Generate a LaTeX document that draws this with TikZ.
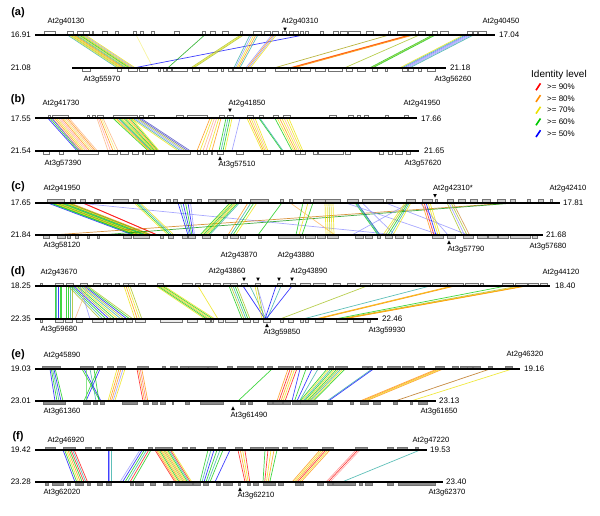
\documentclass[tikz,border=0pt]{standalone}
\usepackage{fontspec}
\setmainfont{Liberation Sans}
\usetikzlibrary{positioning}
\definecolor{idR}{RGB}{255,0,0}
\definecolor{idO}{RGB}{255,140,0}
\definecolor{idY}{RGB}{235,225,0}
\definecolor{idG}{RGB}{0,200,0}
\definecolor{idB}{RGB}{0,0,255}
\definecolor{idT}{RGB}{40,170,160}
\definecolor{idV}{RGB}{160,190,20}
\definecolor{idL}{RGB}{140,140,255}
\definecolor{idP}{RGB}{250,175,120}
% one link, and a bundle of links stepping along both bars
\newcommand{\lk}[3]{\draw[lnk,color=#3] (#1,\topy) -- (#2,\boty);}
\newcommand{\bund}[5]{\foreach \c [count=\i from 0] in {#5}
  \draw[lnk,color=\c] ({#1+\i*(#2)},\topy) -- ({#3+\i*(#4)},\boty);}
% gene boxes above the top bar / below the bottom bar
\newcommand{\genestop}[3][white]{\foreach \a/\b in {#3}
  \filldraw[gene,fill=#1] (\a,#2-3.2) rectangle (\b,#2);}
\newcommand{\genesbot}[3][white]{\foreach \a/\b in {#3}
  \filldraw[gene,fill=#1] (\a,#2) rectangle (\b,#2+3.5);}
\tikzset{
  lnk/.style={line width=0.7pt,opacity=0.75},
  gene/.style={draw=black!55,line width=0.3pt},
  chrbar/.style={line width=2pt,black},
  plab/.style={font=\fontsize{11}{12}\selectfont\bfseries,inner sep=0},
  glab/.style={font=\fontsize{7.6}{8}\selectfont,inner sep=0},
  num/.style={font=\fontsize{8}{9}\selectfont,inner sep=0},
  dnarr/.pic={\fill (-1.8,-2) -- (1.8,-2) -- (0,1.6) -- cycle;},
  uparr/.pic={\fill (-1.8,2) -- (1.8,2) -- (0,-1.6) -- cycle;}}
\begin{document}
\begin{tikzpicture}[x=1pt,y=-1pt]
\useasboundingbox (0,0) rectangle (600,515);

% ---------------- (a)
\def\topy{34.7}\def\boty{67.7}
\bund{67}{1.5}{117}{1.5}{idT,idY,idV,idY,idO,idV,idT,idY,idG,idV,idY,idL,idY}
\lk{136}{153}{idY!50}
\lk{305}{135}{idB}
\lk{205}{168}{idG!80!black}
\bund{241}{1.5}{191}{1.5}{idV,idY,idV}
\bund{250}{2}{234}{1.5}{idT,idL,idY,idO,idT}
\bund{272}{1.5}{246}{1.5}{idL,idO,idL,idY}
\lk{390}{275}{idY!70!black}
\bund{410}{1.5}{290}{1.5}{idO,idR,idO,idO}
\lk{420}{345}{idV}
\bund{433}{1.5}{370}{1.5}{idG,idV,idG}
\bund{464}{2}{400}{2}{idY,idT,idB!60,idL,idL,idT}
\genestop{\topy}{44/55,67/73,77/83,83/89,92/93,102/107,115/118,133/136,140/143,151/154,174/179,202/205,210/215,222/228,240/242,253/261,264/270,272/278,282/286,289/293,293/298,300/303,305/308,320/323,333/338,340/347,348/360,366/373,388/390,397/415,418/425,432/437,440/448,467/472,473/477,478/486}
\genesbot{\boty}{82/90,117/121,128/137,139/147,158/160,163/166,167/171,172/187,192/199,208/217,221/223,228/232,233/242,246/252,257/265,275/288,290/297,300/310,315/325,328/342,346/352,357/365,372/377,385/387,402/407,408/413,418/421,427/435}
\draw[chrbar] (35,\topy) -- (495,\topy);
\draw[chrbar] (72,\boty) -- (446,\boty);
\node[plab] (pa) at (18,13) {(a)};
\node[num,anchor=east] (a-tl) at (31,35) {16.91};
\node[num,anchor=east] (a-bl) at (31,67.5) {21.08};
\node[num,anchor=west] (a-tr) at (499,35) {17.04};
\node[num,anchor=west] (a-br) at (450,67.5) {21.18};
\node[glab] (a-g1) at (66,22) {At2g40130};
\node[glab] (a-g2) at (300,22) {At2g40310};
\pic at (285,29.5) {dnarr};
\node[glab] (a-g3) at (501,22) {At2g40450};
\node[glab] (a-g4) at (102,79.5) {At3g55970};
\node[glab] (a-g5) at (453,80) {At3g56260};

% ---------------- legend
\node[font=\fontsize{10}{11}\selectfont,inner sep=0,anchor=west] (leg) at (531,75) {Identity level};
\foreach \c/\t [count=\k from 0] in {idR/90,idO/80,idY/70,idG/60,idB/50}{
  \draw[\c,line width=1.6pt] (536,{90.2+\k*11.7}) -- (540.5,{83.4+\k*11.7});
  \node[num,anchor=west] (leg-\t) at (547,{86.8+\k*11.7}) {>= \t\%};}

% ---------------- (b)
\def\topy{118.3}\def\boty{150.7}
\bund{48}{2}{77}{1.5}{idB,idG,idB}
\bund{53}{1.8}{80}{1.9}{idP,idO,idY,idP,idR!40,idO,idY!70,idP,idO,idP}
\bund{97}{1.5}{108}{2.5}{idP,idR!40,idO,idY!60,idP}
\bund{113}{1.7}{148}{1}{idG,idY,idO,idT,idG,idY,idV,idG,idY,idO,idG,idY}
\bund{131}{2}{178}{2.4}{idY,idT,idL,idV,idB!50!gray,idB!50!gray}
\bund{210}{2.2}{197}{3}{idO,idY,idP,idR!40,idY,idO}
\bund{226}{2}{219}{2}{idG,idT,idG,idY}
\lk{240}{232}{idL}
\bund{247}{2}{262}{1.5}{idY,idO,idY,idP,idY}
\bund{259}{1}{282}{1}{idG,idT}
\bund{275}{2.3}{292}{1.8}{idG,idY,idO,idY,idP,idY,idY}
\genestop{\topy}{48/50,52/68,87/89,92/95,97/103,113/137,139/143,148/154,176/183,187/207,219/224,227/233,247/253,259/263,273/278,283/290,329/336,348/353,357/360,364/368,385/388,404/408}
\genesbot{\boty}{43/49,59/63,78/98,108/117,120/128,132/138,142/143,145/154,168/190,197/200,203/207,211/212,217/223,236/243,263/270,280/283,295/300,300/305,313/317,318/343,345/350,379/383,388/392,395/402,406/410}
\draw[chrbar] (35,\topy) -- (417,\topy);
\draw[chrbar] (35,\boty) -- (419,\boty);
\node[plab] (pb) at (18,100) {(b)};
\node[num,anchor=east] (b-tl) at (31,118.5) {17.55};
\node[num,anchor=east] (b-bl) at (31,150.5) {21.54};
\node[num,anchor=west] (b-tr) at (421,118.5) {17.66};
\node[num,anchor=west] (b-br) at (424,150.5) {21.65};
\node[glab] (b-g1) at (61,104) {At2g41730};
\node[glab] (b-g2) at (247,104) {At2g41850};
\pic at (230,110.5) {dnarr};
\node[glab] (b-g3) at (422,104) {At2g41950};
\node[glab] (b-g4) at (63,164) {At3g57390};
\pic at (220,158) {uparr};
\node[glab] (b-g5) at (237,165) {At3g57510};
\node[glab] (b-g6) at (423,164) {At3g57620};

% ---------------- (c)
\def\topy{202.7}\def\boty{235}
\bund{47}{1.5}{133}{1.3}{idB,idT,idG,idG,idY,idO,idG,idY,idV,idG,idT,idG,idY,idO,idG,idO}
\bund{82}{0.7}{157}{0.7}{idR,idR}
\lk{75}{398}{idL}
\lk{515}{52}{idO!80!black}
\lk{518}{100}{idG!70!black}
\bund{134}{2}{168}{2}{idY,idG,idT,idY}
\bund{178}{2.5}{188}{1.3}{idB,idT,idB,idG,idB,idL}
\bund{230}{1.6}{200}{1.6}{idG,idY,idG,idV,idY,idG,idT}
\bund{248}{3}{228}{2.5}{idO,idT,idG,idY}
\lk{282}{258}{idG}
\lk{290}{335}{idO!70}
\bund{303}{5}{296}{3}{idG,idY,idG}
\bund{325}{2}{326}{2}{idY,idY,idV,idY,idY}
\bund{355}{1}{378}{1}{idG,idT,idB!60!idG}
\lk{345}{440}{idL}\lk{362}{395}{idL}\lk{410}{352}{idL}\lk{385}{468}{idL}\lk{420}{448}{idL}
\bund{405}{1.5}{383}{2.5}{idY,idV,idG,idT,idY}
\bund{422}{2}{432}{2}{idO,idR,idB,idY,idY}
\bund{447}{2}{462}{2.5}{idV,idL,idV,idO!60!gray}
\genestop[black!20]{\topy}{47/64,70/75,80/85,94/97,98/100,113/128,133/138,150/155,158/160,166/170,173/177,184/191,197/201,208/215,216/225,226/235,239/241,250/268,280/283,289/292,303/310,313/325,325/340,347/358,362/383,386/392,406/415,422/432,435/437,447/453,458/465,470/477,482/490,497/505,510/515,527/530,538/543,550/552}
\genesbot[black!20]{\boty}{43/49,57/65,67/70,75/78,87/89,97/99,123/131,133/149,160/163,168/173,182/187,188/195,202/210,223/227,230/238,240/245,258/261,278/300,300/303,305/315,317/325,327/338,355/363,365/372,377/380,385/392,395/403,407/410,432/443,447/455,463/473,477/487,488/497,498/508,510/530,532/537}
\draw[chrbar] (35,\topy) -- (560,\topy);
\draw[chrbar] (35,\boty) -- (543,\boty);
\node[plab] (pc) at (18,187) {(c)};
\node[num,anchor=east] (c-tl) at (31,203) {17.65};
\node[num,anchor=east] (c-bl) at (31,235) {21.84};
\node[num,anchor=west] (c-tr) at (563,203) {17.81};
\node[num,anchor=west] (c-br) at (546,235) {21.68};
\node[glab] (c-g1) at (62,189) {At2g41950};
\node[glab] (c-g2) at (453,189) {At2g42310*};
\pic at (435,196) {dnarr};
\node[glab] (c-g3) at (568,189) {At2g42410};
\node[glab] (c-g4) at (62,246) {At3g58120};
\pic at (449,242) {uparr};
\node[glab] (c-g5) at (466,250) {At3g57790};
\node[glab] (c-g6) at (548,247) {At3g57680};

% ---------------- (d)
\def\topy{286}\def\boty{319}
\bund{55}{1.7}{55}{1.7}{idG,idT,idB,idG,idG}
\bund{66}{2}{66}{2}{idG,idG,idT,idV}
\bund{68}{1.8}{100}{3}{idV,idT,idG,idB,idV,idG,idY,idT,idV,idB,idG,idV}
\lk{80}{90}{idL}\lk{88}{75}{idP}
\bund{124}{2}{135}{2.3}{idY,idO,idY,idV}
\bund{156}{1.6}{205}{2}{idY,idG,idV,idY,idG,idY}
\lk{198}{218}{idY}
\bund{229}{2}{242}{2}{idG,idV,idT,idG,idV}
\lk{243}{265}{idB}\lk{250}{266}{idT}\lk{257}{267}{idL}
\lk{276}{265}{idB}\lk{281}{267}{idT}\lk{292}{266}{idB}
\bund{255}{2}{262}{2}{idY,idV}
\lk{367}{280}{idV}
\lk{430}{303}{idT}
\bund{452}{1.5}{315}{1.5}{idO,idY,idO}
\lk{506}{335}{idG}
\lk{519}{339}{idV}
\bund{524}{1.3}{341}{1.3}{idO,idY,idO}
\genestop[black!8]{\topy}{40/42,55/63,66/73,80/87,93/100,103/107,107/111,115/119,123/128,128/134,138/145,157/163,182/192,195/200,203/210,213/220,223/230,230/237,241/247,255/260,277/282,290/295,300/310,313/325,333/340,347/355,360/370,372/382,382/390,390/400,400/415,415/430,432/440,440/447,447/463,465/478,480/483,502/513,515/527,528/538,540/547}
\genesbot[black!8]{\boty}{40/42,55/63,65/72,76/82,92/103,106/113,116/123,126/132,135/145,160/182,187/197,205/210,211/213,218/223,225/237,243/250,253/258,263/270,280/283,288/293,300/303,305/308,315/323,336/347,353/363,367/370}
\draw[chrbar] (35,\topy) -- (550,\topy);
\draw[chrbar] (35,\boty) -- (378,\boty);
\node[plab] (pd) at (18,272) {(d)};
\node[num,anchor=east] (d-tl) at (31,286) {18.25};
\node[num,anchor=east] (d-bl) at (31,318.5) {22.35};
\node[num,anchor=west] (d-tr) at (555,286) {18.40};
\node[num,anchor=west] (d-br) at (382,318.5) {22.46};
\node[glab] (d-g1) at (59,273) {At2g43670};
\node[glab] (d-g2) at (227,272) {At2g43860};
\node[glab] (d-g3) at (239,256) {At2g43870};
\node[glab] (d-g4) at (296,256) {At2g43880};
\node[glab] (d-g5) at (309,272) {At2g43890};
\foreach \ax in {244,258,279,292} \pic at (\ax,279.5) {dnarr};
\node[glab] (d-g6) at (561,273) {At2g44120};
\node[glab] (d-g7) at (59,330) {At3g59680};
\pic at (267,325) {uparr};
\node[glab] (d-g8) at (282,333) {At3g59850};
\node[glab] (d-g9) at (387,331) {At3g59930};

% ---------------- (e)
\def\topy{369}\def\boty{401}
\bund{50}{1.3}{55}{2}{idB,idG,idT,idB,idG}
\lk{82}{100}{idG}\lk{84}{101}{idB}\lk{98}{84}{idG}\lk{100}{86}{idB}
\lk{90}{96}{idT}\lk{86}{86}{idG!60}\lk{94}{99}{idG}
\bund{117}{2}{108}{1.7}{idY,idO,idO,idL,idY}
\bund{137}{1.6}{143}{1.6}{idR,idO,idR!60,idO}
\lk{272}{238}{idG}
\bund{288}{2.2}{277}{2}{idO,idR,idO,idY,idR}
\bund{300}{6}{292}{2.5}{idB,idG,idB,idT}
\bund{327}{2}{300}{1.5}{idG,idY,idT,idG,idY,idG,idV,idT,idY,idG}
\bund{372}{1.5}{327}{1.5}{idT,idB}
\bund{437}{2}{360}{2}{idO,idO,idY,idO}
\lk{490}{395}{idO!70!black}
\lk{512}{411}{idY}
\genestop[black!45]{\topy}{42/60,80/93,97/102,107/113,117/125,137/148,162/165,170/177,180/188,188/207,208/217,227/232,237/253,257/263,267/272,278/293,295/300,305/308,310/313,317/320,328/333,335/347,362/367,368/372,377/382,387/400,402/413,418/424,435/444,452/458,460/467,467/472,473/480,488/492,505/512}
\genesbot[black!45]{\boty}{43/65,83/90,93/97,100/104,122/137,143/148,152/157,160/165,172/173,185/189,200/223,240/245,248/252,267/272,273/282,283/290,292/300,300/317,327/332,350/353,360/368,373/380,393/397,410/412,418/427}
\draw[chrbar] (35,\topy) -- (520,\topy);
\draw[chrbar] (35,\boty) -- (436,\boty);
\node[plab] (pe) at (18,355) {(e)};
\node[num,anchor=east] (e-tl) at (31,369) {19.03};
\node[num,anchor=east] (e-bl) at (31,401) {23.01};
\node[num,anchor=west] (e-tr) at (524,369) {19.16};
\node[num,anchor=west] (e-br) at (439,401) {23.13};
\node[glab] (e-g1) at (62,356) {At2g45890};
\node[glab] (e-g2) at (525,355) {At2g46320};
\node[glab] (e-g3) at (62,412) {At3g61360};
\pic at (233,408) {uparr};
\node[glab] (e-g4) at (249,416) {At3g61490};
\node[glab] (e-g5) at (439,412) {At3g61650};

% ---------------- (f)
\def\topy{450}\def\boty{482}
\bund{63}{1.6}{75}{1.8}{idB,idG,idY,idO,idG,idR,idT,idR}
\bund{108}{1.5}{108}{1.5}{idB,idL,idT}
\bund{140}{2.2}{120}{2.5}{idL,idB,idG,idT,idR,idG}
\bund{155}{1.4}{175}{1.4}{idR,idO,idY,idG,idO,idY,idV,idO,idY,idG,idT,idR,idY}
\bund{208}{3}{200}{2}{idG,idT,idB,idG,idT,idG}
\lk{230}{215}{idB}
\bund{238}{2.3}{245}{1.6}{idR,idO,idY,idR}
\bund{265}{3}{263}{1.7}{idG,idR,idY,idO,idG}
\bund{320}{2}{292}{1.8}{idO,idY,idO,idR,idY,idO}
\bund{356}{2}{326}{2}{idR!50,idR,idR!40}
\lk{420}{342}{idT}
\genestop[black!45]{\topy}{45/55,63/75,85/91,95/100,106/112,128/133,148/152,155/172,182/187,190/195,207/213,218/225,235/242,250/263,265/278,282/287,293/300,300/307,322/333,355/367,387/393,397/407,415/418}
\genesbot[black!45]{\boty}{45/48,52/63,67/70,75/83,87/90,97/102,106/111,130/133,135/143,150/155,163/167,168/172,175/192,193/200,203/208,216/220,223/232,238/240,247/250,253/258,263/275,278/283,295/300,300/303,317/323,327/332,333/355,359/362,365/372,387/393,398/435}
\draw[chrbar] (35,\topy) -- (427,\topy);
\draw[chrbar] (35,\boty) -- (443,\boty);
\node[plab] (pf) at (18,437) {(f)};
\node[num,anchor=east] (f-tl) at (31,450) {19.42};
\node[num,anchor=east] (f-bl) at (31,482) {23.28};
\node[num,anchor=west] (f-tr) at (430,450) {19.53};
\node[num,anchor=west] (f-br) at (446,482) {23.40};
\node[glab] (f-g1) at (66,441) {At2g46920};
\node[glab] (f-g2) at (431,441) {At2g47220};
\node[glab] (f-g3) at (62,493) {At3g62020};
\pic at (240,489) {uparr};
\node[glab] (f-g4) at (256,496) {At3g62210};
\node[glab] (f-g5) at (447,493) {At3g62370};
\end{tikzpicture}
\end{document}
